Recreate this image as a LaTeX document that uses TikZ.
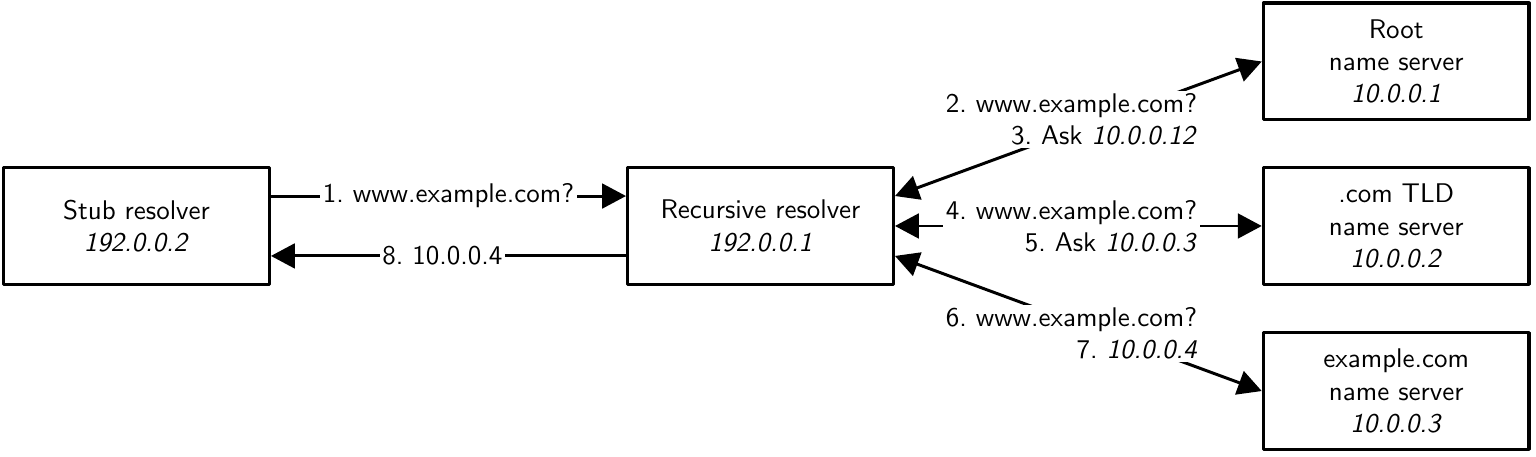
\documentclass[tikz,border=0pt]{standalone}
\usepackage{tikz}
\usetikzlibrary{arrows.meta}
\tikzset{
  every picture/.style={font=\sffamily, line join=round, >={Triangle[length=3.1mm,width=3.2mm]}},
  box/.style={draw, line width=1.2pt, minimum width=3.46cm, minimum height=1.52cm, align=center, inner sep=0pt},
  msg/.style={line width=1.1pt},
  lbl/.style={fill=white, inner sep=1pt, align=right},
}

\begin{document}
\begin{tikzpicture}
\useasboundingbox (0,0) rectangle (20,5.9375);
\node[box] (stub) at (1.777,2.995) {Stub resolver\\ \textit{192.0.0.2}};
\node[box] (rec) at (9.902,2.995) {Recursive resolver\\ \textit{192.0.0.1}};
\node[box] (root) at (18.18,5.137) {Root\\ name server\\ \textit{10.0.0.1}};
\node[box] (tld) at (18.18,2.995) {.com TLD\\ name server\\ \textit{10.0.0.2}};
\node[box] (auth) at (18.18,0.846) {example.com\\ name server\\ \textit{10.0.0.3}};
% stub <-> recursive
\draw[msg,->] ([yshift=0.39cm]stub.east) -- ([yshift=0.39cm]rec.west) node[midway,lbl]{1.\ www.example.com?};
\draw[msg,->] ([yshift=-0.39cm]rec.west) -- ([yshift=-0.39cm]stub.east) node[midway,lbl,xshift=-0.08cm]{8.\ 10.0.0.4};
% recursive <-> name servers
\draw[msg,<->] ([yshift=0.39cm]rec.east) -- (root.west) node[midway,lbl,xshift=-0.09cm,yshift=0.12cm]{2.\ www.example.com?\\ 3.\ Ask \textit{10.0.0.12}};
\draw[msg,<->] (rec.east) -- (tld.west) node[midway,lbl,xshift=-0.09cm]{4.\ www.example.com?\\ 5.\ Ask \textit{10.0.0.3}};
\draw[msg,<->] ([yshift=-0.39cm]rec.east) -- (auth.west) node[midway,lbl,xshift=-0.09cm,yshift=-0.13cm]{6.\ www.example.com?\\ 7.\ \textit{10.0.0.4}};
\end{tikzpicture}
\end{document}
